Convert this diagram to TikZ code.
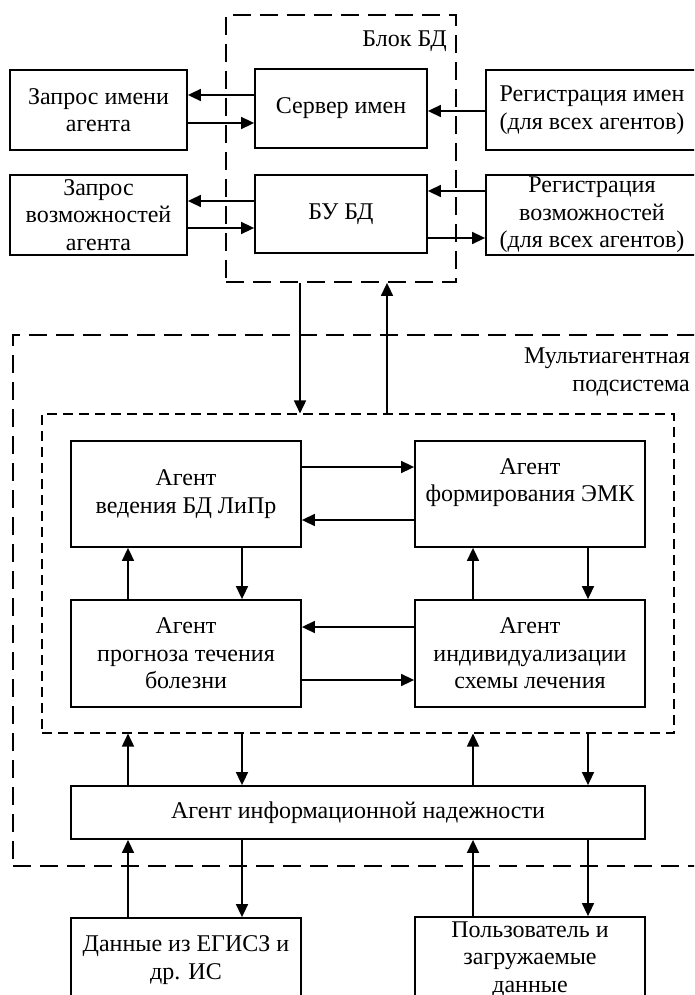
\documentclass[tikz,border=0pt]{standalone}
\usepackage{fontspec}
\setmainfont{Liberation Serif}
\usepackage{tikz}
\usetikzlibrary{arrows.meta,calc}

\begin{document}
\begin{tikzpicture}[x=1pt,y=-1pt]
            \tikzstyle{box}=[draw, line width=1.8pt, align=center, inner sep=0pt, font=\fontsize{24}{27.5}\selectfont]
            \tikzstyle{bigdash}=[draw, line width=1.8pt, dash pattern=on 18pt off 9pt, inner sep=0pt]
            \tikzstyle{smalldash}=[draw, line width=1.1pt, dash pattern=on 10pt off 6pt, inner sep=0pt]
            \tikzstyle{lbl}=[align=right, inner sep=0pt, font=\fontsize{24}{27.5}\selectfont]
            \tikzstyle{arr}=[line width=1.6pt, -{Triangle[length=13pt,width=12pt]}]
            \useasboundingbox (0,0) rectangle (694,995);
            \clip (0,0) rectangle (694,995);
            % dashed groups
            \node[bigdash, minimum width=230pt, minimum height=267pt] (blok) at (341,148.5) {};
            \node[lbl, anchor=north east] (blokname) at (447,31) {Блок БД};
            \node[bigdash, minimum width=710pt, minimum height=531pt] (mas) at (368,600.5) {};
            \node[lbl, anchor=north east] (masname) at (690,348) {Мультиагентная\\подсистема};
            \node[smalldash, minimum width=632pt, minimum height=319pt] (agents) at (358,573.5) {};
            % top blocks
            \node[box, minimum width=177pt, minimum height=80pt] (qname) at (98.5,110) {Запрос имени\\агента};
            \node[box, minimum width=172pt, minimum height=79pt] (srv) at (341,108.5) {Сервер имен};
            \node[box, minimum width=212pt, minimum height=80pt] (regname) at (592,110) {Регистрация имен\\(для всех агентов)};
            \node[box, minimum width=177pt, minimum height=80pt] (qcap) at (98.5,215) {Запрос\\возможностей\\агента};
            \node[box, minimum width=172pt, minimum height=78pt] (bubd) at (341,214) {БУ БД};
            \node[box, minimum width=212pt, minimum height=80pt] (regcap) at (592,215) {Регистрация\\возможностей\\(для всех агентов)};
            % agents
            \node[box, minimum width=230pt, minimum height=106pt] (ved) at (186,494) {Агент\\ведения БД ЛиПр};
            \node[box, minimum width=230pt, minimum height=106pt] (emk) at (530,494) {Агент\\формирования ЭМК\\\mbox{}};
            \node[box, minimum width=230pt, minimum height=107pt] (prog) at (186,653.5) {Агент\\прогноза течения\\болезни};
            \node[box, minimum width=230pt, minimum height=107pt] (ind) at (530,653.5) {Агент\\индивидуализации\\схемы лечения};
            \node[box, minimum width=574pt, minimum height=53pt] (nad) at (358,812.5) {Агент информационной надежности};
            % sources
            \node[box, minimum width=230pt, minimum height=84pt] (egisz) at (186,960) {Данные из ЕГИСЗ и\\др. ИС};
            \node[box, minimum width=230pt, minimum height=84pt] (user) at (530,959) {Пользователь и\\загружаемые\\данные};
            % links of the top row
            \draw[arr] ([yshift=13.5pt]srv.west) -- ([yshift=13.5pt]srv.west -| qname.east);
            \draw[arr] ([yshift=-13pt]qname.east) -- ([yshift=-13pt]qname.east -| srv.west);
            \draw[arr] ([yshift=-1pt]regname.west) -- ([yshift=-1pt]regname.west -| srv.east);
            \draw[arr] ([yshift=13pt]bubd.west) -- ([yshift=13pt]bubd.west -| qcap.east);
            \draw[arr] ([yshift=-13pt]qcap.east) -- ([yshift=-13pt]qcap.east -| bubd.west);
            \draw[arr] ([yshift=24pt]regcap.west) -- ([yshift=24pt]regcap.west -| bubd.east);
            \draw[arr] ([yshift=-24pt]bubd.east) -- ([yshift=-24pt]bubd.east -| regcap.west);
            \draw[arr] ([xshift=-41pt]blok.south) -- ([xshift=-41pt]blok.south |- agents.north);
            \draw[arr] ([xshift=46pt]blok.south |- agents.north) -- ([xshift=46pt]blok.south);
            % links inside the subsystem
            \draw[arr] ([yshift=27pt]ved.east) -- ([yshift=27pt]ved.east -| emk.west);
            \draw[arr] ([yshift=-26pt]emk.west) -- ([yshift=-26pt]emk.west -| ved.east);
            \draw[arr] ([xshift=-58pt]prog.north) -- ([xshift=-58pt]prog.north |- ved.south);
            \draw[arr] ([xshift=56pt]ved.south) -- ([xshift=56pt]ved.south |- prog.north);
            \draw[arr] ([xshift=-57pt]ind.north) -- ([xshift=-57pt]ind.north |- emk.south);
            \draw[arr] ([xshift=58pt]emk.south) -- ([xshift=58pt]emk.south |- ind.north);
            \draw[arr] ([yshift=26.5pt]ind.west) -- ([yshift=26.5pt]ind.west -| prog.east);
            \draw[arr] ([yshift=-26.5pt]prog.east) -- ([yshift=-26.5pt]prog.east -| ind.west);
            \draw[arr] ([xshift=-230pt]nad.north) -- ([xshift=-230pt]nad.north |- agents.south);
            \draw[arr] ([xshift=-116pt]nad.north |- agents.south) -- ([xshift=-116pt]nad.north);
            \draw[arr] ([xshift=115pt]nad.north) -- ([xshift=115pt]nad.north |- agents.south);
            \draw[arr] ([xshift=230pt]nad.north |- agents.south) -- ([xshift=230pt]nad.north);
            % links to the sources
            \draw[arr] ([xshift=-58pt]egisz.north) -- ([xshift=-58pt]egisz.north |- nad.south);
            \draw[arr] ([xshift=56pt]egisz.north |- nad.south) -- ([xshift=56pt]egisz.north);
            \draw[arr] ([xshift=-57pt]user.north) -- ([xshift=-57pt]user.north |- nad.south);
            \draw[arr] ([xshift=58pt]user.north |- nad.south) -- ([xshift=58pt]user.north);
        \end{tikzpicture}
\end{document}
